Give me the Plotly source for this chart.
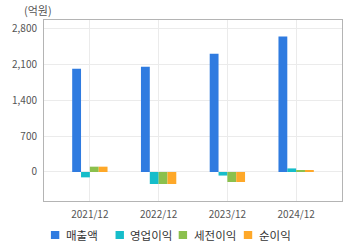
import plotly.graph_objects as go

categories = ["2021/12", "2022/12", "2023/12", "2024/12"]
revenue = [2020, 2060, 2315, 2650]
op_income = [-105, -235, -70, 70]
pretax_income = [104, -235, -196, 39]
net_income = [104, -235, -196, 35]

series = [
    ("매출액", revenue, "#2f7be0"),
    ("영업이익", op_income, "#16bdca"),
    ("세전이익", pretax_income, "#8bc04d"),
    ("순이익", net_income, "#fea829"),
]

# plot area in pixels (for manual legend placement)
L, R, T, B = 40, 342, 20, 201
PW, PH = R - L, B - T

def px_x(px):
    return (px - L) / PW

def px_y(py):
    return (B - py) / PH

fig = go.Figure()
for name, vals, color in series:
    fig.add_trace(go.Bar(x=categories, y=vals, name=name, marker_color=color,
                         marker_line_width=0, showlegend=False))

legend_square_x = [47, 112.5, 176.5, 242.5]
shapes = []
annotations = []
for (name, vals, color), sx in zip(series, legend_square_x):
    shapes.append(dict(type="rect", xref="paper", yref="paper",
                       x0=px_x(sx), x1=px_x(sx + 8.5), y0=px_y(239), y1=px_y(231),
                       fillcolor=color, line_width=0))
    annotations.append(dict(text=name, xref="paper", yref="paper",
                            x=px_x(sx + 13), y=px_y(235), xanchor="left", yanchor="middle",
                            showarrow=False, font=dict(size=11.5, color="#333333")))

annotations.append(dict(text="(억원)", x=px_x(18), y=px_y(10), xref="paper", yref="paper",
                        showarrow=False, xanchor="left", yanchor="middle",
                        font=dict(size=11, color="#555555")))

fig.update_layout(
    width=360, height=248,
    margin=dict(l=L, r=360 - R, t=T, b=248 - B),
    paper_bgcolor="white", plot_bgcolor="white",
    barmode="group", bargap=0.486, bargroupgap=0,
    font=dict(family="Noto Sans CJK KR", size=11, color="#555555"),
    showlegend=False,
    xaxis=dict(range=[-0.667, 3.667], showgrid=True, gridcolor="#ebebeb",
               showline=True, linecolor="#b4b4b4", mirror=True, ticks="",
               ticklabelstandoff=4,
               tickfont=dict(size=10, color="#555555"), zeroline=False),
    yaxis=dict(range=[-568, 2975], tickvals=[0, 700, 1400, 2100, 2800],
               ticktext=["0", "700", "1,400", "2,100", "2,800"],
               showgrid=True, gridcolor="#ebebeb", showline=True,
               linecolor="#b4b4b4", mirror=True, zeroline=False, ticks="",
               ticklabelstandoff=4,
               tickfont=dict(size=10, color="#555555")),
    shapes=shapes,
    annotations=annotations,
)

fig.write_html("out.html")
